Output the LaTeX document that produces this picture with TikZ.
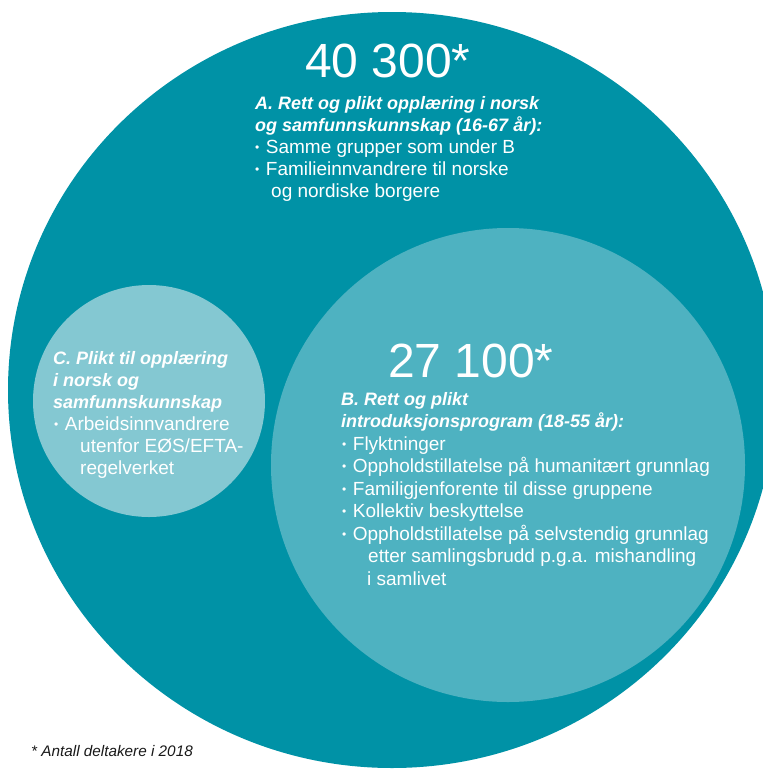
\documentclass[tikz,border=0pt]{standalone}
\usepackage{fontspec}
\setmainfont{Liberation Sans}
\definecolor{circA}{RGB}{0,146,166}
\definecolor{circB}{RGB}{78,178,193}
\definecolor{circC}{RGB}{132,200,210}
\definecolor{foot}{RGB}{25,25,25}
\newcommand\bul{\raisebox{2pt}{\fontsize{12}{12}\selectfont\textbullet}\hspace{6.5pt}}
\begin{document}
\begin{tikzpicture}[x=1pt,y=-1pt,
  txt/.style={anchor=base west, inner sep=0pt, text=white, font=\fontsize{19}{22}\selectfont},
  hd/.style={txt, font=\fontsize{18}{22}\selectfont\bfseries\itshape},
  big/.style={anchor=base west, inner sep=0pt, text=white, font=\fontsize{48}{50}\selectfont},
  footnote/.style={anchor=base west, inner sep=0pt, text=foot, font=\fontsize{15.3}{18}\selectfont\itshape}]
\useasboundingbox (0,0) rectangle (763,769);
\clip (0,0) rectangle (763,769);
% circles
\fill[circA] (392,390) ellipse [x radius=384pt, y radius=378pt];
\fill[circB] (508,465) circle [radius=237pt];
\fill[circC] (149,401) circle [radius=116pt];
% A
\node[big] (numA) at (305,77) {40 300*};
\node[hd] (a1) at (255,109) {A. Rett og plikt opplæring i norsk};
\node[hd] (a2) at (255,131) {og samfunnskunnskap (16-67 år):};
\node[txt] (a3) at (255,153) {\bul Samme grupper som under B};
\node[txt] (a4) at (255,175) {\bul Familieinnvandrere til norske};
\node[txt] (a5) at (271,197) {og nordiske borgere};
% B
\node[big] (numB) at (388,377) {27 100*};
\node[hd] (b1) at (341,405) {B. Rett og plikt};
\node[hd] (b2) at (341,427.5) {introduksjonsprogram (18-55 år):};
\node[txt] (b3) at (342,450) {\bul Flyktninger};
\node[txt] (b4) at (342,472.5) {\bul Oppholdstillatelse på humanitært grunnlag};
\node[txt] (b5) at (342,495) {\bul Familigjenforente til disse gruppene};
\node[txt] (b6) at (342,517.5) {\bul Kollektiv beskyttelse};
\node[txt] (b7) at (342,540) {\bul Oppholdstillatelse på selvstendig grunnlag};
\node[txt] (b8) at (368,562.5) {etter samlingsbrudd p.g.a. mishandling};
\node[txt] (b9) at (367,585) {i samlivet};
% C
\node[hd] (c1) at (53,364) {C. Plikt til opplæring};
\node[hd] (c2) at (53,386) {i norsk og};
\node[hd] (c3) at (53,408) {samfunnskunnskap};
\node[txt] (c4) at (54,430) {\bul Arbeidsinnvandrere};
\node[txt] (c5) at (80,452) {utenfor EØS/EFTA-};
\node[txt] (c6) at (80,474) {regelverket};
% footnote
\node[footnote] (fn) at (31,756) {* Antall deltakere i 2018};
\end{tikzpicture}
\end{document}
